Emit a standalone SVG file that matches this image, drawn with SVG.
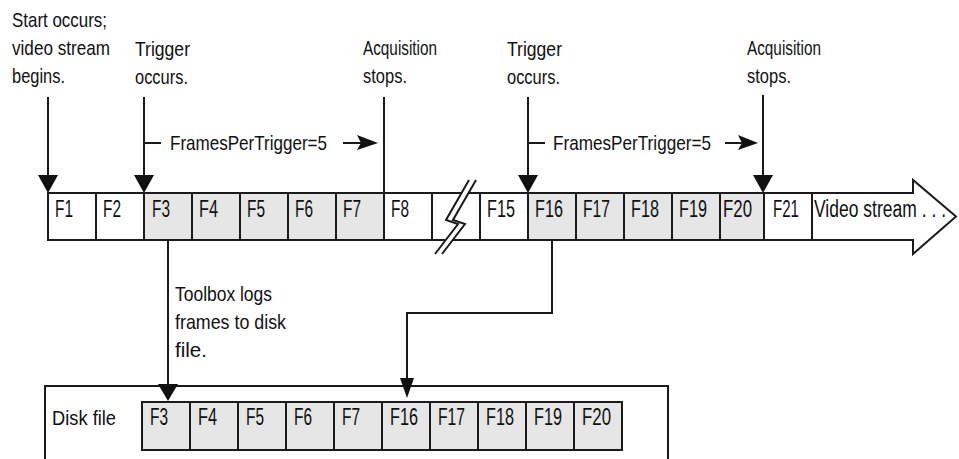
<svg xmlns="http://www.w3.org/2000/svg" width="959" height="459" viewBox="0 0 959 459">
<style>
  .ln{fill:none;stroke:#1a1a1a;stroke-width:2}
  .cell{fill:#fff;stroke:#1a1a1a;stroke-width:2}
  .on{fill:#e6e6e6;stroke:#1a1a1a;stroke-width:2}
  .head{fill:#111;stroke:none}
  text{font-family:"Liberation Sans",Arial,sans-serif;fill:#111}
  .lbl{font-size:21px}
  .cl{font-size:23px}
</style>
<rect x="0" y="0" width="959" height="459" fill="#fff"/>

<g id="stream">
  <polygon class="cell" points="48,193 913,193 913,180 956,216.5 913,254 913,240 48,240"/>
  <rect class="cell" x="48" y="193" width="48" height="47"/>
  <rect class="cell" x="96" y="193" width="48" height="47"/>
  <rect class="on" x="144" y="193" width="48" height="47"/>
  <rect class="on" x="192" y="193" width="48" height="47"/>
  <rect class="on" x="240" y="193" width="48" height="47"/>
  <rect class="on" x="288" y="193" width="48" height="47"/>
  <rect class="on" x="336" y="193" width="48" height="47"/>
  <rect class="cell" x="384" y="193" width="48" height="47"/>
  <rect class="cell" x="432" y="193" width="48" height="47"/>
  <rect class="cell" x="480" y="193" width="48" height="47"/>
  <rect class="on" x="528" y="193" width="48" height="47"/>
  <rect class="on" x="576" y="193" width="48" height="47"/>
  <rect class="on" x="624" y="193" width="48" height="47"/>
  <rect class="on" x="672" y="193" width="48" height="47"/>
  <rect class="on" x="720" y="193" width="44" height="47"/>
  <rect class="cell" x="764" y="193" width="48" height="47"/>
  <line class="ln" x1="812" y1="193" x2="812" y2="240"/>
  <polygon fill="#fff" stroke="none" points="469,180 446,220 458,224 435,254 442,254 465,224 453,220 476,180"/>
  <polyline class="ln" points="469,180 446,220 458,224 435,254"/>
  <polyline class="ln" points="476,180 453,220 465,224 442,254"/>
  <text class="cl" x="55" y="217" textLength="18" lengthAdjust="spacingAndGlyphs">F1</text>
  <text class="cl" x="103" y="217" textLength="18" lengthAdjust="spacingAndGlyphs">F2</text>
  <text class="cl" x="152" y="217" textLength="18" lengthAdjust="spacingAndGlyphs">F3</text>
  <text class="cl" x="199" y="217" textLength="19" lengthAdjust="spacingAndGlyphs">F4</text>
  <text class="cl" x="247" y="217" textLength="18" lengthAdjust="spacingAndGlyphs">F5</text>
  <text class="cl" x="295" y="217" textLength="18" lengthAdjust="spacingAndGlyphs">F6</text>
  <text class="cl" x="343" y="217" textLength="18" lengthAdjust="spacingAndGlyphs">F7</text>
  <text class="cl" x="391" y="217" textLength="18" lengthAdjust="spacingAndGlyphs">F8</text>
  <text class="cl" x="487" y="217" textLength="28" lengthAdjust="spacingAndGlyphs">F15</text>
  <text class="cl" x="535" y="217" textLength="28" lengthAdjust="spacingAndGlyphs">F16</text>
  <text class="cl" x="583" y="217" textLength="27" lengthAdjust="spacingAndGlyphs">F17</text>
  <text class="cl" x="631" y="217" textLength="28" lengthAdjust="spacingAndGlyphs">F18</text>
  <text class="cl" x="679" y="217" textLength="28" lengthAdjust="spacingAndGlyphs">F19</text>
  <text class="cl" x="723" y="217" textLength="29" lengthAdjust="spacingAndGlyphs">F20</text>
  <text class="cl" x="773" y="217" textLength="26" lengthAdjust="spacingAndGlyphs">F21</text>
  <text class="cl" x="814" y="217" textLength="132" lengthAdjust="spacingAndGlyphs">Video stream . . .</text>
</g>

<g id="disk">
  <rect class="ln" x="45" y="386" width="623" height="100"/>
  <text class="lbl" x="52" y="425" textLength="64" lengthAdjust="spacingAndGlyphs">Disk file</text>
  <rect class="on" x="142" y="402" width="48" height="48"/>
  <rect class="on" x="190" y="402" width="48" height="48"/>
  <rect class="on" x="238" y="402" width="48" height="48"/>
  <rect class="on" x="286" y="402" width="48" height="48"/>
  <rect class="on" x="334" y="402" width="48" height="48"/>
  <rect class="on" x="382" y="402" width="48" height="48"/>
  <rect class="on" x="430" y="402" width="48" height="48"/>
  <rect class="on" x="478" y="402" width="48" height="48"/>
  <rect class="on" x="526" y="402" width="48" height="48"/>
  <rect class="on" x="574" y="402" width="48" height="48"/>
  <text class="cl" x="150" y="425" textLength="18" lengthAdjust="spacingAndGlyphs">F3</text>
  <text class="cl" x="198" y="425" textLength="19" lengthAdjust="spacingAndGlyphs">F4</text>
  <text class="cl" x="246" y="425" textLength="18" lengthAdjust="spacingAndGlyphs">F5</text>
  <text class="cl" x="294" y="425" textLength="18" lengthAdjust="spacingAndGlyphs">F6</text>
  <text class="cl" x="342" y="425" textLength="18" lengthAdjust="spacingAndGlyphs">F7</text>
  <text class="cl" x="390" y="425" textLength="28" lengthAdjust="spacingAndGlyphs">F16</text>
  <text class="cl" x="438" y="425" textLength="27" lengthAdjust="spacingAndGlyphs">F17</text>
  <text class="cl" x="486" y="425" textLength="28" lengthAdjust="spacingAndGlyphs">F18</text>
  <text class="cl" x="534" y="425" textLength="28" lengthAdjust="spacingAndGlyphs">F19</text>
  <text class="cl" x="582" y="425" textLength="29" lengthAdjust="spacingAndGlyphs">F20</text>
</g>

<g id="labels">
  <text class="lbl" x="12" y="27" textLength="95" lengthAdjust="spacingAndGlyphs">Start occurs;</text>
  <text class="lbl" x="12" y="55" textLength="98" lengthAdjust="spacingAndGlyphs">video stream</text>
  <text class="lbl" x="12" y="83" textLength="53" lengthAdjust="spacingAndGlyphs">begins.</text>
  <text class="lbl" x="135" y="56" textLength="55" lengthAdjust="spacingAndGlyphs">Trigger</text>
  <text class="lbl" x="135" y="84" textLength="53" lengthAdjust="spacingAndGlyphs">occurs.</text>
  <text class="lbl" x="363" y="55" textLength="74" lengthAdjust="spacingAndGlyphs">Acquisition</text>
  <text class="lbl" x="363" y="83" textLength="44" lengthAdjust="spacingAndGlyphs">stops.</text>
  <text class="lbl" x="507" y="56" textLength="55" lengthAdjust="spacingAndGlyphs">Trigger</text>
  <text class="lbl" x="507" y="84" textLength="53" lengthAdjust="spacingAndGlyphs">occurs.</text>
  <text class="lbl" x="747" y="55" textLength="74" lengthAdjust="spacingAndGlyphs">Acquisition</text>
  <text class="lbl" x="747" y="83" textLength="44" lengthAdjust="spacingAndGlyphs">stops.</text>
  <text class="lbl" x="170" y="150" textLength="157" lengthAdjust="spacingAndGlyphs">FramesPerTrigger=5</text>
  <text class="lbl" x="553" y="150" textLength="158" lengthAdjust="spacingAndGlyphs">FramesPerTrigger=5</text>
  <text class="lbl" x="175" y="301" textLength="97" lengthAdjust="spacingAndGlyphs">Toolbox logs</text>
  <text class="lbl" x="175" y="329" textLength="111" lengthAdjust="spacingAndGlyphs">frames to disk</text>
  <text class="lbl" x="175" y="357" textLength="32" lengthAdjust="spacingAndGlyphs">file.</text>
</g>

<g id="connectors">
  <line class="ln" x1="48" y1="97" x2="48" y2="178"/>
  <polygon class="head" points="38,175 58,175 48,193"/>
  <line class="ln" x1="144" y1="97" x2="144" y2="178"/>
  <polygon class="head" points="134,175 154,175 144,193"/>
  <line class="ln" x1="144" y1="143" x2="161" y2="143"/>
  <line class="ln" x1="384" y1="97" x2="384" y2="193"/>
  <line class="ln" x1="343" y1="143" x2="362" y2="143"/>
  <polygon class="head" points="357,135 378,143 357,150 361,143"/>
  <line class="ln" x1="528" y1="97" x2="528" y2="178"/>
  <polygon class="head" points="518,175 538,175 528,193"/>
  <line class="ln" x1="528" y1="143" x2="545" y2="143"/>
  <line class="ln" x1="763" y1="95" x2="763" y2="178"/>
  <polygon class="head" points="753,175 773,175 763,193"/>
  <line class="ln" x1="725" y1="143" x2="742" y2="143"/>
  <polygon class="head" points="738,135 758,143 738,150 742,143"/>
  <line class="ln" x1="168" y1="240" x2="168" y2="386"/>
  <polygon class="head" points="158,384 178,384 168,401"/>
  <polyline class="ln" points="552,240 552,313 407,313 407,382"/>
  <polygon class="head" points="400,378 414,378 407,398"/>
</g>
</svg>
